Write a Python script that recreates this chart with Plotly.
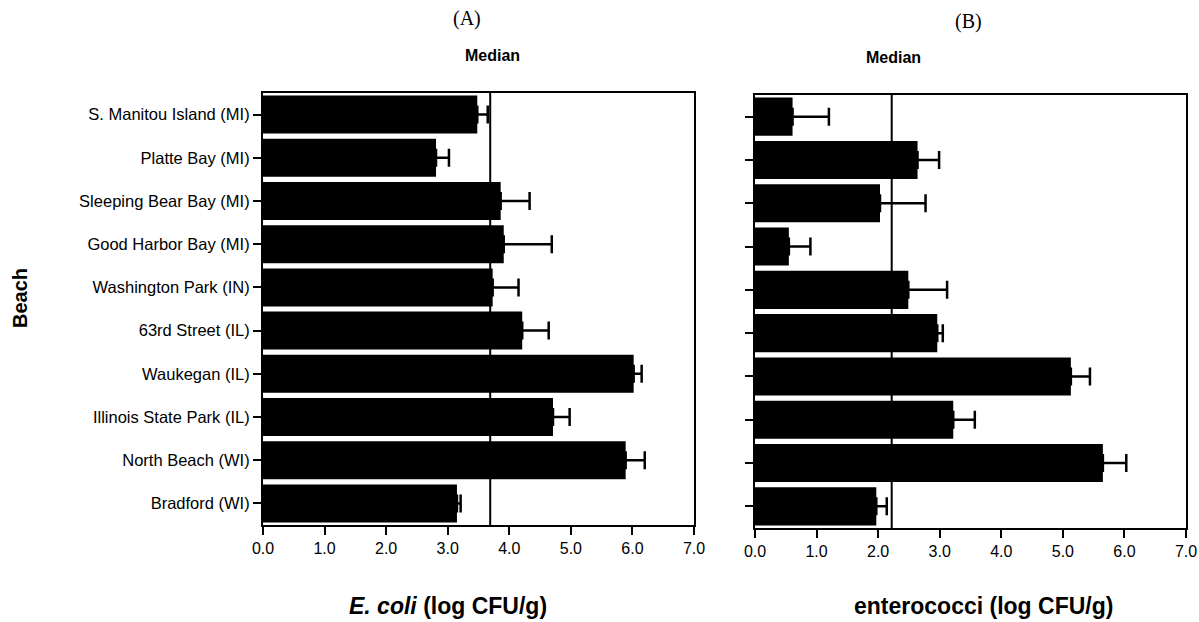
import plotly.graph_objects as go

beaches = ["S. Manitou Island (MI)", "Platte Bay (MI)", "Sleeping Bear Bay (MI)",
           "Good Harbor Bay (MI)", "Washington Park (IN)", "63rd Street (IL)",
           "Waukegan (IL)", "Illinois State Park (IL)", "North Beach (WI)", "Bradford (WI)"]
ecoli = [3.48, 2.81, 3.86, 3.91, 3.73, 4.21, 6.02, 4.71, 5.89, 3.15]
ecoli_err = [0.17, 0.21, 0.47, 0.78, 0.42, 0.43, 0.13, 0.27, 0.31, 0.06]
entero = [0.61, 2.64, 2.03, 0.55, 2.49, 2.96, 5.13, 3.22, 5.65, 1.97]
entero_err = [0.59, 0.35, 0.74, 0.35, 0.63, 0.09, 0.31, 0.35, 0.38, 0.17]
median_ecoli = 3.69
median_entero = 2.22
xticks = [0, 1, 2, 3, 4, 5, 6, 7]
xticklabels = ["0.0", "1.0", "2.0", "3.0", "4.0", "5.0", "6.0", "7.0"]

FONT = "Liberation Sans, Arial, sans-serif"

fig = go.Figure()
for vals, errs, xa, ya in [(ecoli, ecoli_err, "x", "y"), (entero, entero_err, "x2", "y2")]:
    fig.add_trace(go.Bar(
        y=beaches, x=vals, orientation="h", xaxis=xa, yaxis=ya,
        marker=dict(color="black", line=dict(width=0)),
        error_x=dict(type="data", array=errs, symmetric=False, arrayminus=[0]*len(errs),
                     color="black", thickness=2.5, width=9),
        showlegend=False, hoverinfo="skip"))

for med, xa, ya in [(median_ecoli, "x", "y3"), (median_entero, "x2", "y4")]:
    fig.add_trace(go.Scatter(
        x=[med, med], y=[0, 1], xaxis=xa, yaxis=ya,
        mode="lines", line=dict(color="black", width=2), showlegend=False, hoverinfo="skip"))

axis_common = dict(showline=True, linecolor="black", linewidth=2, mirror=True,
                   showgrid=False, zeroline=False, automargin=False)

fig.update_layout(
    width=1199, height=622,
    margin=dict(l=0, r=0, t=0, b=0, pad=0, autoexpand=False),
    paper_bgcolor="white", plot_bgcolor="white",
    bargap=0.12,
    font=dict(family=FONT, color="black", size=16),
    xaxis=dict(domain=[263/1199, 694/1199], range=[0, 7], tickvals=xticks, ticktext=xticklabels,
               ticks="outside", ticklen=8, tickwidth=2, tickcolor="black",
               tickfont=dict(size=16, family=FONT), anchor="y", **axis_common),
    xaxis2=dict(domain=[755/1199, 1186/1199], range=[0, 7], tickvals=xticks, ticktext=xticklabels,
                ticks="outside", ticklen=8, tickwidth=2, tickcolor="black",
                tickfont=dict(size=16, family=FONT), anchor="y2", **axis_common),
    yaxis=dict(domain=[1-525/622, 1-93/622], categoryorder="array", categoryarray=beaches[::-1],
               ticks="outside", ticklen=8, tickwidth=2, tickcolor="black",
               tickfont=dict(size=16.5, family=FONT), anchor="x", **axis_common),
    yaxis2=dict(domain=[1-528/622, 1-95/622], categoryorder="array", categoryarray=beaches[::-1],
                ticks="outside", ticklen=8, tickwidth=2, tickcolor="black",
                showticklabels=False, anchor="x2", **axis_common),
    yaxis3=dict(overlaying="y", range=[0, 1], visible=False, anchor="x"),
    yaxis4=dict(overlaying="y2", range=[0, 1], visible=False, anchor="x2"),
)

annotations = [
    dict(text="(A)", x=467, y=18, font=dict(family="Liberation Serif, Times New Roman, serif", size=20)),
    dict(text="(B)", x=968, y=22, font=dict(family="Liberation Serif, Times New Roman, serif", size=20)),
    dict(text="<b>Median</b>", x=492, y=56, font=dict(family=FONT, size=16)),
    dict(text="<b>Median</b>", x=893, y=58, font=dict(family=FONT, size=16)),
    dict(text="<b><i>E. coli</i> (log CFU/g)</b>", x=448, y=606, font=dict(family=FONT, size=23)),
    dict(text="<b>enterococci (log CFU/g)</b>", x=983, y=606, font=dict(family=FONT, size=23)),
    dict(text="<b>Beach</b>", x=20, y=298, textangle=-90, font=dict(family=FONT, size=20)),
]
for a in annotations:
    xa = a.pop("xanchor", "center")
    fig.add_annotation(xref="paper", yref="paper", x=a.pop("x")/1199, y=1-a.pop("y")/622,
                       xanchor=xa, yanchor="middle", showarrow=False, **a)

fig.write_html("out.html", config={"displayModeBar": False},
               post_script="document.body.style.margin='0';document.body.style.padding='0';")
